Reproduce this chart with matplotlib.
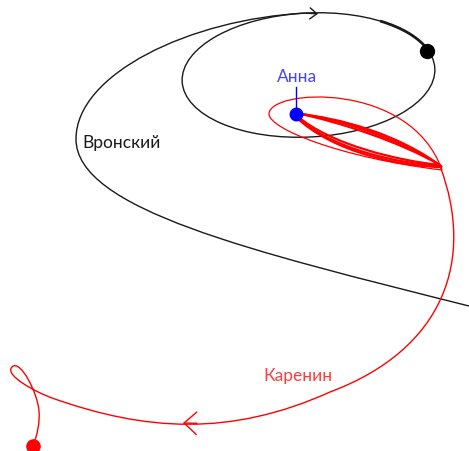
import matplotlib.pyplot as plt
from matplotlib.path import Path
from matplotlib.patches import PathPatch, Ellipse, Arc

# all coordinates in pixels (y grows downwards)

# Vronsky: incoming trajectory, cubic Bezier control points (joins the orbit at its top)
vronsky_x = [469, 250, 76, 76, 76, 190, 305.3]
vronsky_y = [307, 252, 210, 140, 75, 20, 14.1]
# Vronsky: closed orbit (centre, width, height, tilt)
orbit_centre = (308.5, 76)
orbit_w, orbit_h, orbit_tilt = 253, 124, -3
# stretch of the orbit travelled twice (polar angles on the orbit)
overlap_from, overlap_to = -34, -8.5

# Karenin: outgoing trajectory, cubic Bezier control points
karenin_x = [440, 475, 445, 330, 230, 145, 52, 38, 3.7, 12, 20.3, 38, 39, 40, 37, 33]
karenin_y = [167, 260, 350, 393, 438, 432, 399, 394, 376.6, 368, 359.4, 395, 412, 424, 437, 447]

# Karenin: wide loop around Anna
wide_x = [442, 410, 269, 269, 269, 342, 442]
wide_y = [171, 81, 90, 115, 130, 159, 171]

# Karenin: narrow loops around Anna (several passes)
narrow_x = [
    [296, 340, 400, 441, 400, 330, 296],
    [296, 340, 400, 440, 400, 330, 296],
    [296, 340, 402, 442, 402, 332, 296],
]
narrow_y = [
    [114, 120, 140, 167, 165, 150, 117],
    [114, 123, 143, 166, 162, 146, 116],
    [115, 118, 137, 168, 168, 153, 118],
]

anna = (296, 115)
vronsky_end = (427, 52)
karenin_end = (33, 447)

labels = ["Вронский", "Анна", "Каренин"]
label_pos = [(122, 143), (297, 77), (298, 376)]
label_col = ["#1a1a1a", "#4848e8", "#ff3c3c"]


def bezier(xs, ys):
    codes = [Path.MOVETO] + [Path.CURVE4] * (len(xs) - 1)
    return Path(list(zip(xs, ys)), codes)


fig = plt.figure(figsize=(4.69, 4.52), dpi=100)
ax = fig.add_axes([0, 0, 1, 1])
ax.set_xlim(0, 469)
ax.set_ylim(452, 0)
ax.axis("off")

ax.add_patch(Ellipse(orbit_centre, orbit_w, orbit_h, angle=orbit_tilt,
                     fill=False, ec="#1a1a1a", lw=1.0))
ax.add_patch(Arc(orbit_centre, orbit_w, orbit_h, angle=orbit_tilt,
                 theta1=overlap_from, theta2=overlap_to, ec="#1a1a1a", lw=2.0))
ax.add_patch(PathPatch(bezier(vronsky_x, vronsky_y), fill=False,
                       ec="#1a1a1a", lw=1.0))
ax.annotate("", xy=(318, 14.8), xytext=(306, 14.2),
            arrowprops=dict(arrowstyle="->,head_length=0.5,head_width=0.4",
                            color="#1a1a1a", lw=1.0, mutation_scale=10,
                            shrinkA=0, shrinkB=0))

ax.add_patch(PathPatch(bezier(wide_x, wide_y), fill=False, ec="red", lw=0.9))
for xs, ys in zip(narrow_x, narrow_y):
    ax.add_patch(PathPatch(bezier(xs, ys), fill=False, ec="red", lw=1.6))
ax.add_patch(PathPatch(bezier(karenin_x, karenin_y), fill=False,
                       ec="red", lw=1.0))
ax.annotate("", xy=(183, 424), xytext=(197, 424.3),
            arrowprops=dict(arrowstyle="->,head_length=0.5,head_width=0.45",
                            color="red", lw=1.0, mutation_scale=18,
                            shrinkA=0, shrinkB=0))

ax.plot([anna[0], anna[0]], [88, anna[1]], color="blue", lw=1.0)
ax.plot(*anna, "o", color="blue", ms=9)
ax.plot(*vronsky_end, "o", color="black", ms=10)
ax.plot(*karenin_end, "o", color="red", ms=9.5, clip_on=False)

for txt, (x, y), c in zip(labels, label_pos, label_col):
    ax.text(x, y, txt, color=c, fontsize=12.5, family="Lato",
            ha="center", va="center")

fig.savefig("out.png", dpi=100)
